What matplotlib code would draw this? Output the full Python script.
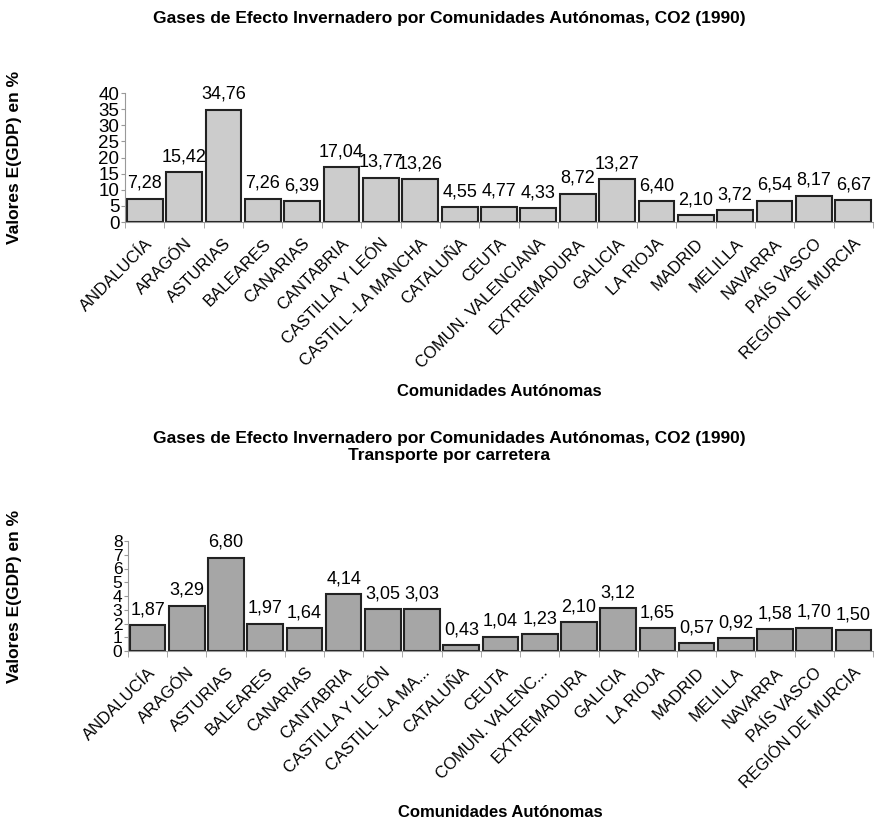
import matplotlib
matplotlib.use('Agg')
import matplotlib.pyplot as plt
import numpy as np

plt.rcParams['font.family'] = ['Liberation Sans', 'DejaVu Sans']

# Datos
comunidades = ['ANDALUCÍA', 'ARAGÓN', 'ASTURIAS', 'BALEARES', 'CANARIAS', 'CANTABRIA',
               'CASTILLA Y LEÓN', 'CASTILL -LA MANCHA', 'CATALUÑA', 'CEUTA',
               'COMUN. VALENCIANA', 'EXTREMADURA', 'GALICIA', 'LA RIOJA', 'MADRID',
               'MELILLA', 'NAVARRA', 'PAÍS VASCO', 'REGIÓN DE MURCIA']
comunidades_cortas = ['ANDALUCÍA', 'ARAGÓN', 'ASTURIAS', 'BALEARES', 'CANARIAS', 'CANTABRIA',
                      'CASTILLA Y LEÓN', 'CASTILL -LA MA...', 'CATALUÑA', 'CEUTA',
                      'COMUN. VALENC...', 'EXTREMADURA', 'GALICIA', 'LA RIOJA', 'MADRID',
                      'MELILLA', 'NAVARRA', 'PAÍS VASCO', 'REGIÓN DE MURCIA']
co2_total = [7.28, 15.42, 34.76, 7.26, 6.39, 17.04, 13.77, 13.26, 4.55, 4.77,
             4.33, 8.72, 13.27, 6.40, 2.10, 3.72, 6.54, 8.17, 6.67]
co2_carretera = [1.87, 3.29, 6.80, 1.97, 1.64, 4.14, 3.05, 3.03, 0.43, 1.04,
                 1.23, 2.10, 3.12, 1.65, 0.57, 0.92, 1.58, 1.70, 1.50]

fig = plt.figure(figsize=(8.74, 8.23), dpi=100)


def dibujar(ax, valores, etiquetas, color, ymax, paso, ytick_size):
    x = np.arange(len(valores))
    bars = ax.bar(x, valores, width=0.91, color=color, edgecolor='#222222', linewidth=1.5)
    for bar, v in zip(bars, valores):
        ax.annotate(f'{v:.2f}'.replace('.', ','),
                    (bar.get_x() + bar.get_width() / 2, bar.get_height()),
                    xytext=(0, 5), textcoords='offset points',
                    ha='center', va='bottom', fontsize=13)
    ax.set_xlim(-0.5, len(valores) - 0.5)
    ax.set_ylim(0, ymax)
    ax.set_yticks(np.arange(0, ymax + 0.01, paso))
    ax.tick_params(axis='y', labelsize=ytick_size, length=3, color='#999999', pad=1)
    ax.set_xticks(x)
    ax.set_xticklabels(etiquetas, rotation=45, ha='right', rotation_mode='anchor', fontsize=12)
    ax.tick_params(axis='x', which='major', length=0, pad=10)
    ax.set_xticks(np.arange(-0.5, len(valores)), minor=True)
    ax.tick_params(axis='x', which='minor', length=4, color='#999999')
    for s in ['top', 'right']:
        ax.spines[s].set_visible(False)
    for s in ['left', 'bottom']:
        ax.spines[s].set_color('#999999')
    ax.set_ylabel('Valores E(GDP) en %', fontsize=12.5, fontweight='bold')
    ax.set_xlabel('Comunidades Autónomas', fontsize=12, fontweight='bold')


# Gráfico superior
ax1 = fig.add_axes([125 / 874, 1 - 222 / 823, 748 / 874, 129 / 823])
dibujar(ax1, co2_total, comunidades, '#cccccc', 40, 5, 13.5)
ax1.yaxis.set_label_coords((22 - 125) / 748, 0.5)
ax1.xaxis.set_label_coords(0.5, -(384 - 222) / 129)

# Gráfico inferior
ax2 = fig.add_axes([128 / 874, 1 - 651 / 823, 745 / 874, 110 / 823])
dibujar(ax2, co2_carretera, comunidades_cortas, '#a6a6a6', 8, 1, 12.5)
ax2.yaxis.set_label_coords((22 - 128) / 745, 0.5)
ax2.xaxis.set_label_coords(0.5, -(805 - 651) / 110)

fig.text(449 / 874, 1 - 18 / 823, 'Gases de Efecto Invernadero por Comunidades Autónomas, CO2 (1990)',
         ha='center', va='center', fontsize=12.5, fontweight='bold')
fig.text(449 / 874, 1 - 447 / 823,
         'Gases de Efecto Invernadero por Comunidades Autónomas, CO2 (1990)\nTransporte por carretera',
         ha='center', va='center', fontsize=12.5, fontweight='bold', linespacing=1.15)

plt.savefig('out.png', dpi=100)
